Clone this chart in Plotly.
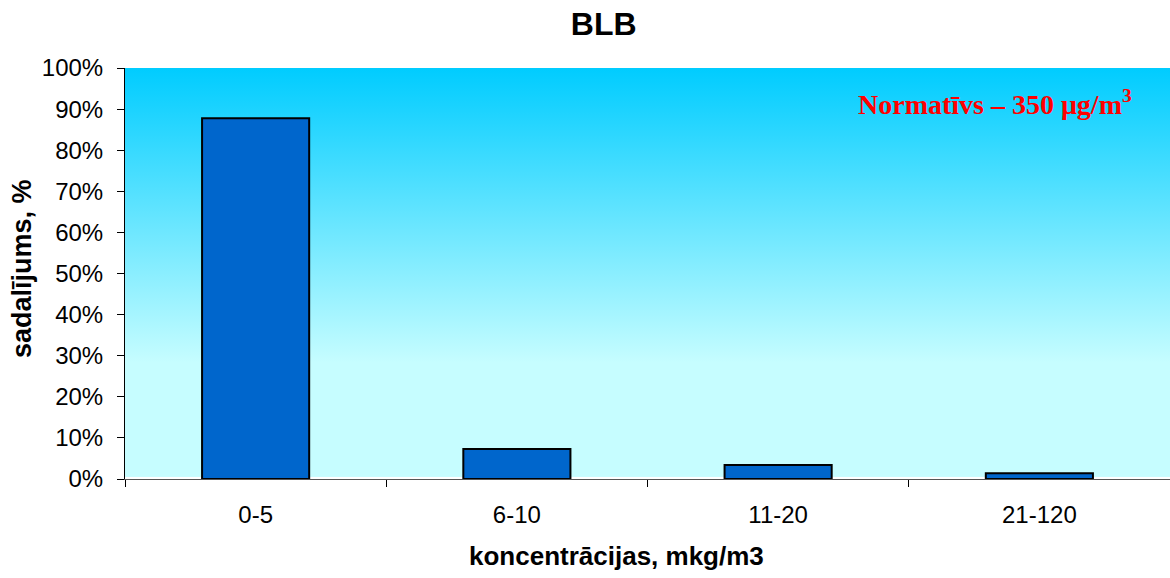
import base64
import plotly.graph_objects as go

categories = ["0-5", "6-10", "11-20", "21-120"]
values = [87.8, 7.3, 3.4, 1.4]
y_ticks = [0, 10, 20, 30, 40, 50, 60, 70, 80, 90, 100]
y_tick_labels = [f"{v}%" for v in y_ticks]

svg = (
    '<svg xmlns="http://www.w3.org/2000/svg" width="100" height="100" preserveAspectRatio="none">'
    '<defs><linearGradient id="g" x1="0" y1="0" x2="0" y2="1">'
    '<stop offset="0" stop-color="#00CCFF"/>'
    '<stop offset="0.72" stop-color="#C6FDFF"/>'
    '<stop offset="1" stop-color="#C6FDFF"/>'
    '</linearGradient></defs>'
    '<rect x="0" y="0" width="100" height="100" fill="url(#g)"/></svg>'
)
src = "data:image/svg+xml;base64," + base64.b64encode(svg.encode()).decode()

fig = go.Figure()
fig.add_trace(go.Bar(
    x=categories, y=values,
    marker=dict(color="#0066CC", line=dict(color="black", width=2)),
    width=0.41,
))

fig.update_layout(
    width=1170, height=578,
    margin=dict(l=125, r=0, t=68, b=99, autoexpand=False),
    paper_bgcolor="white",
    plot_bgcolor="rgba(0,0,0,0)",
    font=dict(family="Arial, Liberation Sans, sans-serif", color="black", size=24),
    title=dict(text="<b>BLB</b>", x=0.516, xanchor="center", y=0.958, yanchor="middle",
               font=dict(size=32, color="black")),
    showlegend=False,
    images=[dict(source=src, xref="paper", yref="paper", x=0, y=1, sizex=1, sizey=0.995,
                 sizing="stretch", layer="below", xanchor="left", yanchor="top")],
    annotations=[
        dict(text="<b>Normatīvs – 350 μg/m<sup>3</sup></b>",
             xref="paper", yref="paper", x=0.966, y=0.915, xanchor="right", yanchor="middle",
             showarrow=False,
             font=dict(family="Liberation Serif, Times New Roman, serif", size=28, color="#FF0000")),
        dict(text="<b>koncentrācijas, mkg/m3</b>",
             xref="paper", yref="paper", x=0.47, y=-0.187, xanchor="center", yanchor="middle",
             showarrow=False, font=dict(size=26)),
        dict(text="<b>sadalījums, %</b>", textangle=-90,
             xref="paper", yref="paper", x=-0.0986, y=0.513, xanchor="center", yanchor="middle",
             showarrow=False, font=dict(size=27)),
    ],
)

fig.update_xaxes(
    type="category", automargin=False,
    showline=True, linecolor="#555555", linewidth=1,
    ticks="outside", tickson="boundaries", ticklen=7, tickcolor="black",
    showgrid=False, ticklabelstandoff=14,
    tickfont=dict(size=24),
)
fig.update_yaxes(
    range=[0, 100], automargin=False,
    tickvals=y_ticks, ticktext=y_tick_labels,
    showline=True, linecolor="black", linewidth=1,
    ticks="outside", ticklen=7, tickcolor="black",
    showgrid=False, zeroline=False, ticklabelstandoff=9,
    tickfont=dict(size=24),
)

fig.write_html("out.html", config={"displayModeBar": False},
               post_script="document.body.style.margin='0px';")
